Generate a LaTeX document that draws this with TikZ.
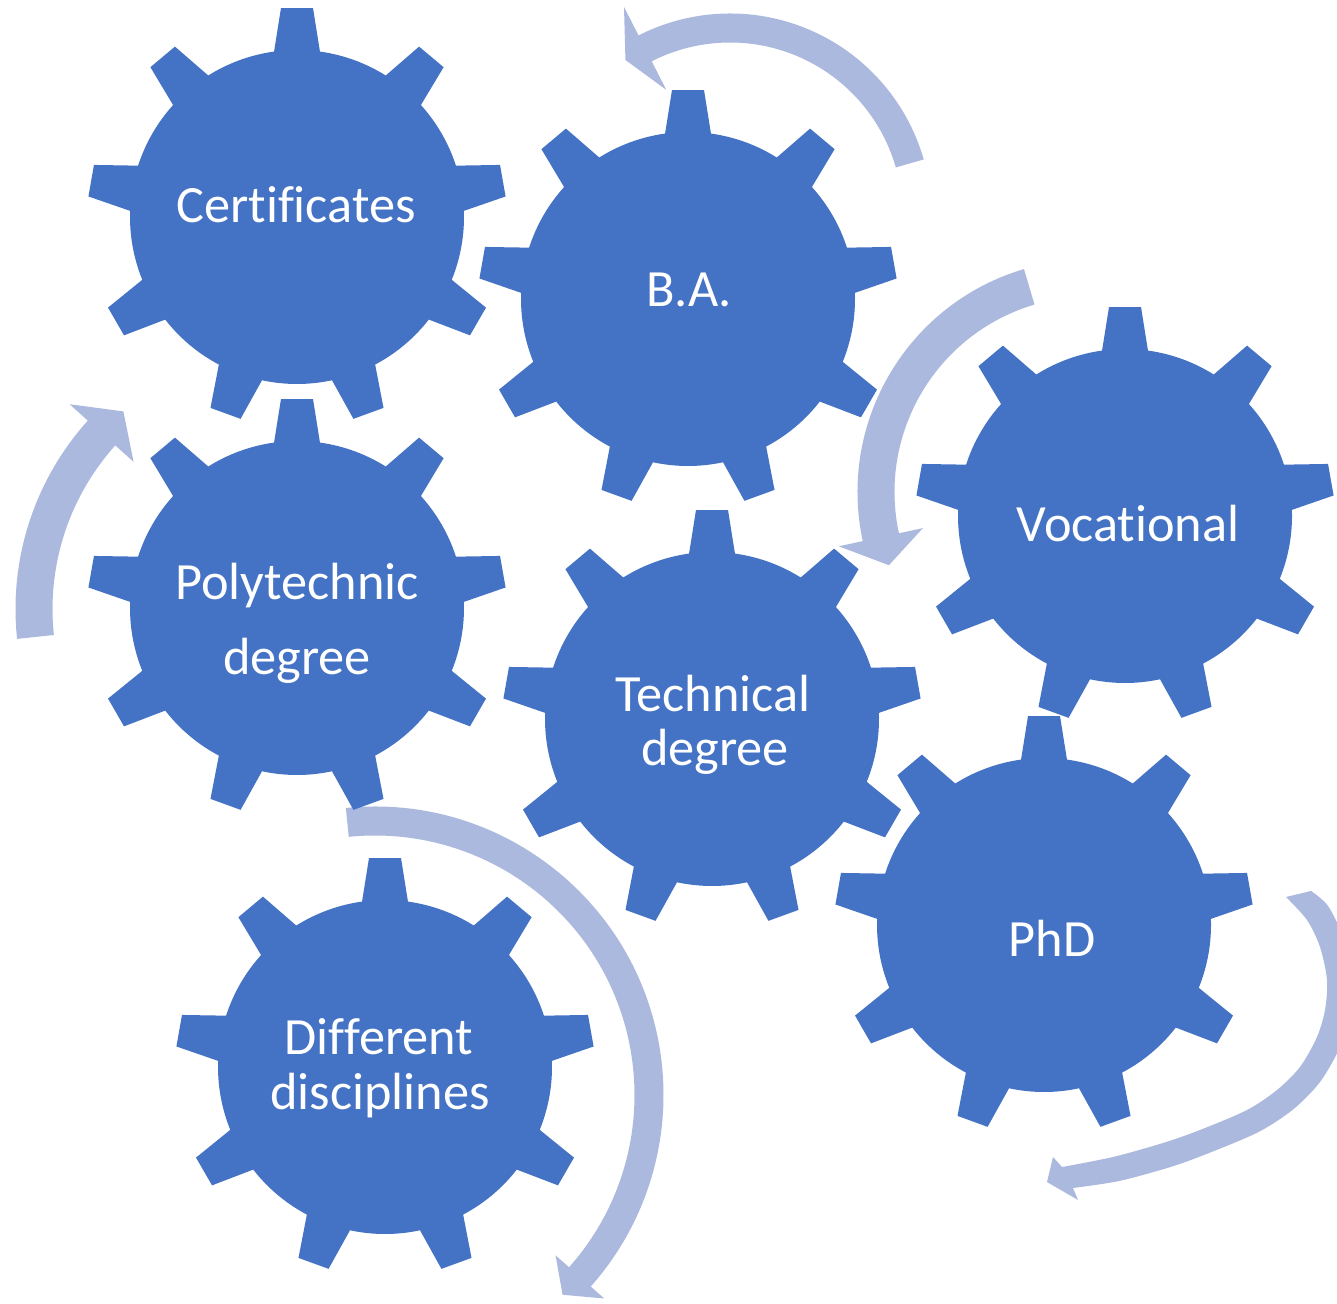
\documentclass[tikz,border=0pt]{standalone}
\usepackage{fontspec}
\setmainfont{Carlito}[Ligatures={NoCommon,NoContextual}]
\definecolor{gearblue}{RGB}{68,114,196}
\definecolor{arrowblue}{RGB}{171,185,222}
\tikzset{
  gearfill/.style={fill=gearblue},
  arrowfill/.style={fill=arrowblue},
  lbl/.style={text=white, inner sep=0pt, anchor=base, font=\fontsize{14.88pt}{17pt}\selectfont},
}
% gear with 9 teeth, body radius 167, tip radius ~209
\newcommand\drawgear[1]{%
  \fill[gearfill,shift={(#1)}] (82.1:167)
  \foreach \k in {0,...,8} {
    -- ({90+40*\k-4.38}:209.6) -- ({90+40*\k+4.38}:209.6) -- ({90+40*\k+7.9}:167)
    arc[start angle={90+40*\k+7.9}, end angle={90+40*\k+32.1}, radius=167]
  } -- cycle;}
% circular block arrow: center, radius, width, start angle, back angle, tip angle, head half width
\newcommand\circarrow[7]{%
  \fill[arrowfill,shift={(#1)}]
  (#4:{#2+#3/2}) arc[start angle=#4, end angle=#5, radius={#2+#3/2}]
  -- (#5:{#2+#7}) -- (#6:#2) -- (#5:{#2-#7}) -- (#5:{#2-#3/2})
  arc[start angle=#5, end angle=#4, radius={#2-#3/2}] -- cycle;}
\begin{document}
\begin{tikzpicture}[x=0.01cm,y=0.01cm]
\fill[white] (0,0) rectangle (1337,1303);
\useasboundingbox (0,0) rectangle (1337,1303);
% gear centres
\coordinate (gCert) at (297,1086);
\coordinate (gBA)   at (688,1004);
\coordinate (gVoc)  at (1125,787);
\coordinate (gPoly) at (297,695);
\coordinate (gTech) at (712,584);
\coordinate (gPhD)  at (1044,378);
\coordinate (gDiff) at (385,236);
% arrow centres
\coordinate (a1) at (730,1088);
\coordinate (a2) at (1090,811);
\coordinate (a3) at (297,694);
\coordinate (a4) at (375,208);
% curved arrows
\circarrow{a1}{187}{29}{16}{117}{124}{46.5}
\circarrow{a2}{214}{37}{106.5}{192.2}{200}{43}
\circarrow{a3}{263}{37}{186.1}{138}{131.3}{43}
\circarrow{a4}{274}{29}{95.8}{-41.6}{-46.8}{32.5}
\fill[arrowfill]
  plot[smooth] coordinates {(1311,412) (1328,397) (1344,364) (1352,325) (1349.5,289) (1340,256) (1320,221) (1293,193.5) (1258.5,171) (1209,150) (1170.5,136) (1119,122) (1073,115)}
  -- (1078,103) -- (1047,121) -- (1053,146)
  -- plot[smooth] coordinates {(1062,136) (1113,146) (1163,160) (1200,173) (1247,193) (1277,213) (1300,236) (1317,266) (1325,293) (1327,323) (1320,356) (1307,383) (1286,406)}
  -- cycle;
% gears
\drawgear{gCert}
\drawgear{gBA}
\drawgear{gVoc}
\drawgear{gPoly}
\drawgear{gTech}
\drawgear{gPhD}
\drawgear{gDiff}
% labels
\node[lbl] (tCert)  at (296,1080) {Cert\kern0pt if\kern0pt icates};
\node[lbl] (tBA)    at (689,996)  {B.A.};
\node[lbl] (tVoc)   at (1128,761) {Vocat\kern0pt ional};
\node[lbl] (tPoly1) at (297,703)  {Polytechnic};
\node[lbl] (tPoly2) at (297,628)  {degree};
\node[lbl] (tTech1) at (713,591)  {Technical};
\node[lbl] (tTech2) at (715,537)  {degree};
\node[lbl] (tPhD)   at (1052,347) {PhD};
\node[lbl] (tDiff1) at (379,249)  {Dif\kern0pt ferent};
\node[lbl] (tDiff2) at (380,194)  {disciplines};
\end{tikzpicture}
\end{document}
